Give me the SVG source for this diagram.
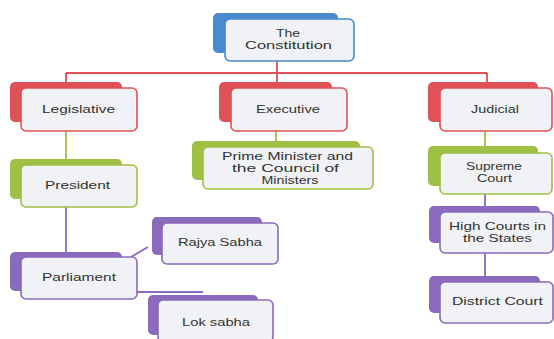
<svg xmlns="http://www.w3.org/2000/svg" width="554" height="339" viewBox="0 0 554 339">
  <style>
    .face { fill: #f1f2f5; stroke-width: 1.6; }
    .lbl { font-family: "Liberation Sans", "Open Sans", sans-serif; font-size: 10.5px; fill: #333333; text-anchor: middle; }
    .blue { fill: #4a8ad0; } .blue-s { stroke: #4a8ad0; }
    .red { fill: #e05257; } .red-s { stroke: #e05257; }
    .green { fill: #9fbf45; } .green-s { stroke: #9fbf45; }
    .purple { fill: #8a6abd; } .purple-s { stroke: #8a6abd; }
    .link { fill: none; stroke-width: 1.8; }
  </style>
  <rect width="554" height="339" fill="#ffffff"/>

  <g id="connectors">
    <path class="link red-s" d="M277 61 V73 M66 73 H487 M66 73 V82 M277 73 V82 M487 73 V82"/>
    <path class="link green-s" d="M66 131 V159 M276 131 V141 M485 131 V146"/>
    <path class="link purple-s" d="M66 207 V252 M485 194 V206 M485 253 V276"/>
    <path class="link purple-s" d="M131 257 L148 247 M136 292 H203"/>
  </g>

  <g id="constitution">
    <rect class="blue" x="213" y="13" width="125" height="40" rx="5"/>
    <rect class="face blue-s" x="225" y="19" width="129" height="42" rx="5"/>
    <text class="lbl" x="288" y="37" textLength="24" lengthAdjust="spacingAndGlyphs">The</text>
    <text class="lbl" x="288.5" y="49" textLength="87" lengthAdjust="spacingAndGlyphs">Constitution</text>
  </g>

  <g id="legislative">
    <rect class="red" x="10" y="82" width="112" height="40" rx="5"/>
    <rect class="face red-s" x="21" y="88" width="116" height="43" rx="5"/>
    <text class="lbl" x="78.5" y="113" textLength="73" lengthAdjust="spacingAndGlyphs">Legislative</text>
  </g>

  <g id="executive">
    <rect class="red" x="219" y="82" width="113" height="40" rx="5"/>
    <rect class="face red-s" x="231" y="88" width="116" height="43" rx="5"/>
    <text class="lbl" x="288" y="113" textLength="64" lengthAdjust="spacingAndGlyphs">Executive</text>
  </g>

  <g id="judicial">
    <rect class="red" x="428" y="82" width="110" height="40" rx="5"/>
    <rect class="face red-s" x="440" y="88" width="112" height="43" rx="5"/>
    <text class="lbl" x="495" y="113" textLength="48" lengthAdjust="spacingAndGlyphs">Judicial</text>
  </g>

  <g id="president">
    <rect class="green" x="10" y="159" width="112" height="40" rx="5"/>
    <rect class="face green-s" x="21" y="165" width="116" height="42" rx="5"/>
    <text class="lbl" x="77.5" y="189" textLength="65" lengthAdjust="spacingAndGlyphs">President</text>
  </g>

  <g id="prime-minister">
    <rect class="green" x="192" y="141" width="168" height="39" rx="5"/>
    <rect class="face green-s" x="203" y="147" width="170" height="42" rx="5"/>
    <text class="lbl" x="287.5" y="160" textLength="131" lengthAdjust="spacingAndGlyphs">Prime Minister and</text>
    <text class="lbl" x="285.5" y="172" textLength="107" lengthAdjust="spacingAndGlyphs">the Council of</text>
    <text class="lbl" x="290" y="184" textLength="57" lengthAdjust="spacingAndGlyphs">Ministers</text>
  </g>

  <g id="supreme-court">
    <rect class="green" x="428" y="146" width="110" height="40" rx="5"/>
    <rect class="face green-s" x="440" y="153" width="112" height="41" rx="5"/>
    <text class="lbl" x="494" y="170" textLength="56" lengthAdjust="spacingAndGlyphs">Supreme</text>
    <text class="lbl" x="494.5" y="182" textLength="35" lengthAdjust="spacingAndGlyphs">Court</text>
  </g>

  <g id="parliament">
    <rect class="purple" x="10" y="252" width="112" height="39" rx="5"/>
    <rect class="face purple-s" x="21" y="257" width="116" height="42" rx="5"/>
    <text class="lbl" x="79" y="281" textLength="74" lengthAdjust="spacingAndGlyphs">Parliament</text>
  </g>

  <g id="rajya-sabha">
    <rect class="purple" x="152" y="217" width="110" height="38" rx="5"/>
    <rect class="face purple-s" x="162" y="223" width="116" height="41" rx="5"/>
    <text class="lbl" x="220" y="246" textLength="84" lengthAdjust="spacingAndGlyphs">Rajya Sabha</text>
  </g>

  <g id="lok-sabha">
    <rect class="purple" x="148" y="295" width="110" height="40" rx="5"/>
    <rect class="face purple-s" x="158" y="300" width="115" height="42" rx="5"/>
    <text class="lbl" x="216" y="326" textLength="68" lengthAdjust="spacingAndGlyphs">Lok sabha</text>
  </g>

  <g id="high-courts">
    <rect class="purple" x="429" y="206" width="111" height="37" rx="5"/>
    <rect class="face purple-s" x="440" y="212" width="113" height="41" rx="5"/>
    <text class="lbl" x="497.5" y="230" textLength="97" lengthAdjust="spacingAndGlyphs">High Courts in</text>
    <text class="lbl" x="497.5" y="242" textLength="69" lengthAdjust="spacingAndGlyphs">the States</text>
  </g>

  <g id="district-court">
    <rect class="purple" x="429" y="276" width="111" height="37" rx="5"/>
    <rect class="face purple-s" x="440" y="282" width="113" height="41" rx="5"/>
    <text class="lbl" x="497.5" y="305" textLength="91" lengthAdjust="spacingAndGlyphs">District Court</text>
  </g>
</svg>
